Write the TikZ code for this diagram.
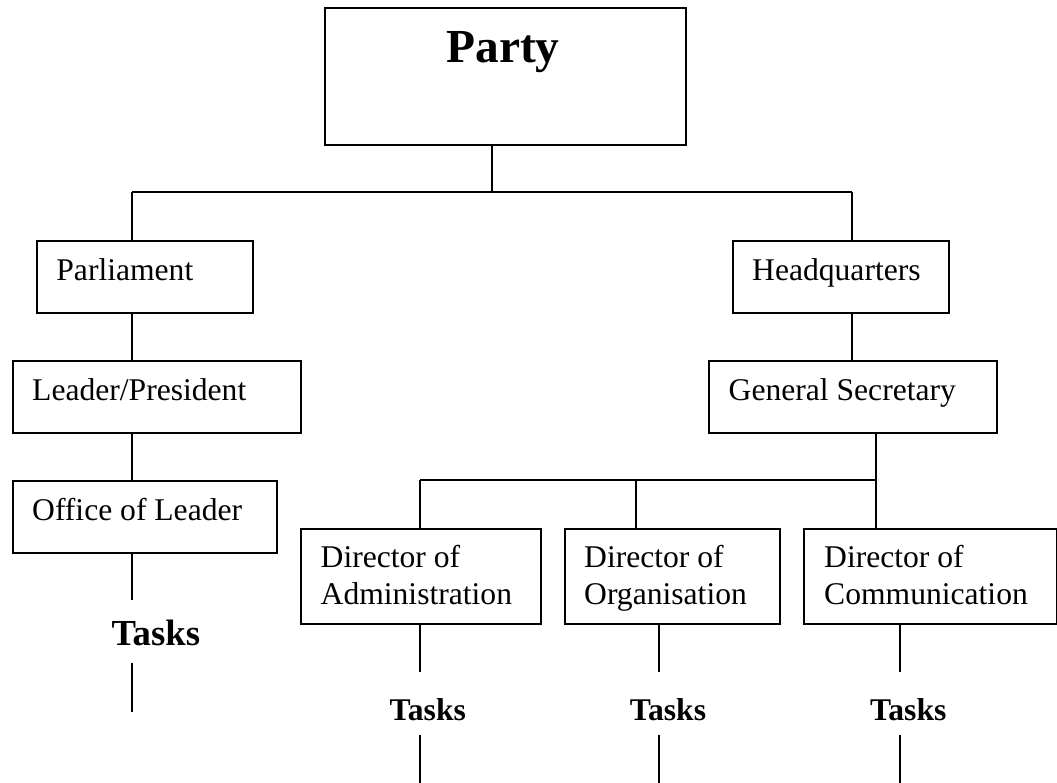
\documentclass[tikz,border=0pt]{standalone}
\usepackage{fontspec}
\setmainfont{Liberation Serif}
\tikzset{
  box/.style={draw, line width=2pt, rectangle, inner sep=0pt, anchor=north west},
  lbl/.style={inner sep=0pt, anchor=base west, align=left, font=\fontsize{31.6}{37}\selectfont},
  tasks/.style={inner sep=0pt, anchor=base, font=\fontsize{31.6}{37}\selectfont\bfseries},
  conn/.style={line width=2pt}
}
\begin{document}
\begin{tikzpicture}[x=1pt,y=-1pt]
\useasboundingbox (0,0) rectangle (1057,783);
% boxes
\node[box, minimum width=361pt, minimum height=136.5pt] (party) at (323.5,7.5) {};
\node[anchor=base, inner sep=0pt, font=\fontsize{47.4}{55}\selectfont\bfseries] (partyT) at (503,63) {Party};
\node[box, minimum width=216.3pt, minimum height=72pt] (parl) at (35.7,240) {};
\node[lbl] (parlT) at (56.2,281) {Parliament};
\node[box, minimum width=287.7pt, minimum height=71.5pt] (lp) at (12.3,360) {};
\node[lbl] (lpT) at (32,400.5) {Leader/President};
\node[box, minimum width=264.3pt, minimum height=71.7pt] (off) at (11.7,480) {};
\node[lbl] (offT) at (32,520.7) {Office of Leader};
\node[box, minimum width=216pt, minimum height=71.7pt] (hq) at (731.7,240) {};
\node[lbl] (hqT) at (752,281) {Headquarters};
\node[box, minimum width=288.3pt, minimum height=71.5pt] (gs) at (707.7,360) {};
\node[lbl] (gsT) at (728.5,400.7) {General Secretary};
\node[box, minimum width=240pt, minimum height=95.6pt] (da) at (300,527.7) {};
\node[lbl] (daT) at (320.5,604.3) {Director of\\Administration};
\node[box, minimum width=215.6pt, minimum height=95.6pt] (do) at (563.7,527.7) {};
\node[lbl] (doT) at (584,604.3) {Director of\\Organisation};
\node[box, minimum width=252.7pt, minimum height=95.6pt] (dc) at (803.3,527.7) {};
\node[lbl] (dcT) at (824,604.3) {Director of\\Communication};
% tasks labels
\node[tasks, font=\fontsize{36.7}{42}\selectfont\bfseries] (tL) at (155.8,645) {Tasks};
\node[tasks] (tA) at (427.8,720) {Tasks};
\node[tasks] (tO) at (668,720) {Tasks};
\node[tasks] (tC) at (908.3,720) {Tasks};
% junctions
\coordinate (pj) at (492,191.7);
\coordinate (lj) at (132,191.7);
\coordinate (rj) at (852,191.7);
\coordinate (gj) at (876,480);
\coordinate (aj) at (420,480);
\coordinate (oj) at (636,480);
% connectors
\draw[conn] (party.south -| pj) -- (pj);
\draw[conn] (lj) -- (rj);
\draw[conn] (lj) -- (lj |- parl.north);
\draw[conn] (rj) -- (rj |- hq.north);
\draw[conn] (parl.south -| lj) -- (lj |- lp.north);
\draw[conn] (lp.south -| lj) -- (lj |- off.north);
\draw[conn] (hq.south -| rj) -- (rj |- gs.north);
\draw[conn] (gs.south -| gj) -- (gj);
\draw[conn] (aj) -- (gj);
\draw[conn] (gj) -- (gj |- dc.north);
\draw[conn] (aj) -- (aj |- da.north);
\draw[conn] (oj) -- (oj |- do.north);
% task lines
\coordinate (l1) at (132,600);
\coordinate (l2) at (132,662.7);
\coordinate (l3) at (132,711.7);
\draw[conn] (off.south -| l1) -- (l1);
\draw[conn] (l2) -- (l3);
\coordinate (a1) at (420,671.7);
\coordinate (a2) at (420,735);
\coordinate (a3) at (420,783);
\draw[conn] (da.south -| a1) -- (a1);
\draw[conn] (a2) -- (a3);
\coordinate (o1) at (659.3,671.7);
\coordinate (o2) at (659.3,735);
\coordinate (o3) at (659.3,783);
\draw[conn] (do.south -| o1) -- (o1);
\draw[conn] (o2) -- (o3);
\coordinate (c1) at (900,671.7);
\coordinate (c2) at (900,735);
\coordinate (c3) at (900,783);
\draw[conn] (dc.south -| c1) -- (c1);
\draw[conn] (c2) -- (c3);
\end{tikzpicture}
\end{document}
